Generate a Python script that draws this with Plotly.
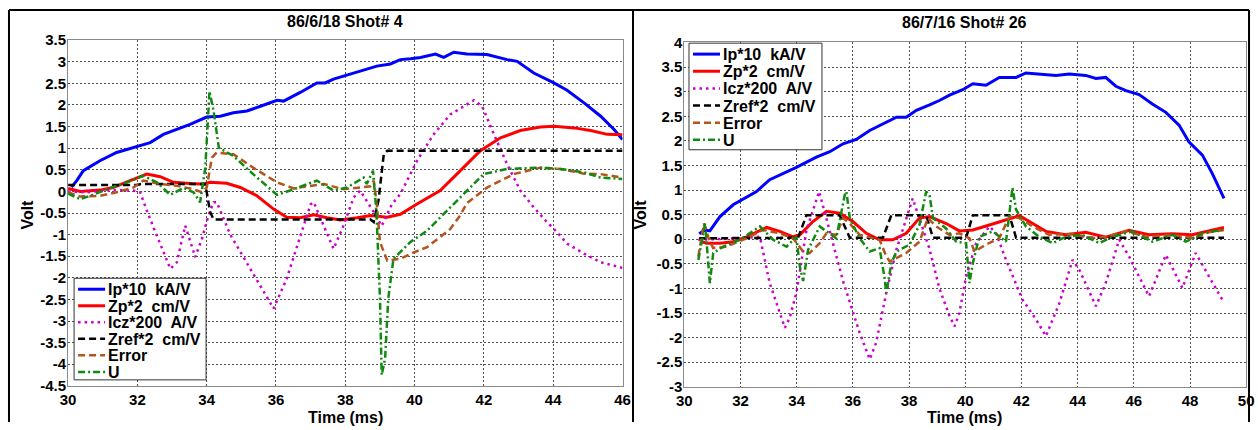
import plotly.graph_objects as go

# Figure size in CSS px.  The page keeps the browser's default 8px body
# margin and the whole page (figure + margins) ends up scaled into the
# 1258x430 view, so layout positions below are written in view pixels and
# converted back through that offset and scale.
W, H = 1258, 430
BODY = 8
SX = W / (W + 2 * BODY)
SY = H / (H + 2 * BODY)

# ---------------- shot 4 (86/6/18) ----------------
t_ip1 = [30.1, 30.25, 30.44, 30.92, 31.4, 32.0, 32.37, 32.75, 33.14, 33.52, 34.0, 34.39, 34.77, 35.16,
         35.55, 36.03, 36.22, 36.7, 37.18, 37.42, 37.66, 38.05, 38.43, 38.91, 39.3, 39.59, 39.88, 40.17,
         40.6, 40.84, 41.13, 41.51, 42.09, 42.67, 42.96, 43.44, 44.02, 44.4, 44.89, 45.37, 45.75, 46.0]
v_ip1 = [0.1, 0.25, 0.48, 0.71, 0.9, 1.04, 1.13, 1.32, 1.44, 1.55, 1.72, 1.74, 1.82, 1.86,
         1.97, 2.11, 2.09, 2.29, 2.51, 2.51, 2.6, 2.69, 2.79, 2.9, 2.95, 3.05, 3.07, 3.1,
         3.18, 3.1, 3.22, 3.18, 3.17, 3.05, 3.01, 2.74, 2.51, 2.34, 2.05, 1.74, 1.44, 1.2]

t_zp1 = [30.0, 30.35, 30.92, 31.3, 31.7, 32.17, 32.27, 32.66, 33.04, 33.62, 33.91, 34.1, 34.58, 34.97,
         35.45, 35.93, 36.31, 36.7, 37.09, 37.47, 37.86, 38.34, 38.73, 39.21, 39.59, 40.07, 40.74, 41.32,
         41.9, 42.48, 43.05, 43.63, 44.02, 44.6, 45.08, 45.56, 46.0]
v_zp1 = [0.07, 0.0, 0.03, 0.09, 0.22, 0.37, 0.4, 0.34, 0.21, 0.18, 0.17, 0.21, 0.19, 0.09,
         -0.1, -0.41, -0.6, -0.61, -0.54, -0.61, -0.66, -0.61, -0.56, -0.6, -0.53, -0.29, 0.02, 0.48,
         0.94, 1.24, 1.41, 1.49, 1.51, 1.47, 1.41, 1.32, 1.31]

t_icz1 = [30.0, 30.54, 31.2, 31.88, 32.08, 32.27, 32.56, 32.95, 33.14, 33.38, 33.67, 33.86, 34.05, 34.2,
          34.29, 34.68, 35.93, 36.31, 36.8, 37.0, 37.09, 37.66, 37.95, 38.24, 38.43, 38.8, 39.05, 39.35,
          39.59, 40.07, 40.55, 41.03, 41.71, 41.95, 42.29, 42.67, 43.05, 43.44, 43.82, 44.11, 44.4, 44.89,
          45.37, 46.0]
v_icz1 = [0.0, -0.02, 0.03, 0.02, -0.02, -0.44, -1.02, -1.79, -1.64, -0.79, -1.52, -1.1, -0.56, -0.25,
          -0.25, -1.0, -2.71, -2.02, -0.79, -0.3, -0.25, -1.33, -0.79, -0.14, 0.02, -0.45, -0.8, -0.29,
          -0.06, 0.71, 1.32, 1.78, 2.11, 1.97, 1.32, 0.63, 0.02, -0.37, -0.71, -0.94, -1.21, -1.44,
          -1.64, -1.77]

t_zref1 = [30.0, 32.0, 32.1, 33.96, 34.1, 34.2, 38.73, 38.82, 38.96, 39.11, 39.21, 46.0]
v_zref1 = [0.15, 0.15, 0.17, 0.17, -0.48, -0.65, -0.65, -0.71, -0.2, 0.86, 0.94, 0.94]

t_err1 = [30.0, 30.35, 30.92, 31.4, 31.88, 32.17, 32.66, 33.14, 33.62, 33.86, 34.0, 34.15, 34.29, 34.77,
          35.34, 36.03, 36.51, 37.09, 37.38, 37.95, 38.43, 38.73, 38.82, 38.91, 39.0, 39.21, 39.59, 39.98,
          40.36, 41.03, 41.32, 41.51, 42.09, 42.86, 43.63, 44.21, 44.89, 45.37, 46.0]
v_err1 = [-0.02, -0.12, -0.1, -0.02, 0.09, 0.25, 0.17, 0.13, 0.05, -0.02, 0.09, 0.78, 0.9, 0.86,
          0.55, 0.21, 0.07, 0.13, 0.17, 0.05, 0.09, 0.12, 0.25, -0.3, -1.17, -1.6, -1.56, -1.41,
          -1.29, -0.87, -0.55, -0.27, 0.09, 0.4, 0.55, 0.52, 0.41, 0.4, 0.32]

t_u1 = [30.0, 30.35, 30.64, 31.12, 31.7, 32.17, 32.56, 32.95, 33.33, 33.62, 33.81, 33.96, 34.08, 34.2,
        34.35, 34.77, 35.34, 36.03, 36.51, 37.18, 37.66, 38.05, 38.53, 38.62, 38.8, 38.9, 39.0, 39.05,
        39.15, 39.24, 39.39, 39.88, 40.36, 40.84, 41.51, 41.99, 42.67, 43.63, 44.21, 44.89, 45.37, 46.0]
v_u1 = [-0.05, -0.18, -0.1, 0.05, 0.21, 0.36, 0.21, -0.08, 0.08, -0.02, -0.25, 0.55, 2.32, 1.86,
        1.01, 0.82, 0.4, -0.08, 0.05, 0.25, 0.02, 0.09, 0.32, 0.17, 0.48, -0.5, -2.47, -4.25,
        -3.86, -2.48, -1.56, -1.17, -0.91, -0.52, 0.02, 0.4, 0.52, 0.55, 0.52, 0.44, 0.32, 0.29]

# ---------------- shot 26 (86/7/16) ----------------
t_ip2 = [30.53, 30.74, 30.91, 31.27, 31.74, 32.22, 32.57, 33.04, 33.52, 33.99, 34.7, 35.18, 35.65, 36.12,
         36.6, 37.07, 37.55, 37.9, 38.26, 38.73, 39.08, 39.44, 39.91, 40.27, 40.74, 41.21, 41.81, 42.16,
         42.64, 43.23, 43.7, 44.29, 44.65, 45.0, 45.36, 45.72, 46.19, 46.66, 47.14, 47.61, 47.96, 48.44,
         48.79, 49.21]
v_ip2 = [0.11, 0.19, 0.17, 0.46, 0.7, 0.86, 0.97, 1.21, 1.34, 1.46, 1.67, 1.78, 1.94, 2.03,
         2.21, 2.35, 2.48, 2.48, 2.62, 2.73, 2.82, 2.93, 3.04, 3.16, 3.13, 3.29, 3.29, 3.38,
         3.36, 3.33, 3.36, 3.33, 3.27, 3.29, 3.11, 3.02, 2.94, 2.75, 2.58, 2.32, 1.98, 1.71,
         1.34, 0.83]

t_zp2 = [30.62, 30.79, 31.27, 31.74, 32.22, 32.93, 33.4, 33.87, 34.11, 34.58, 35.06, 35.53, 36.0, 36.48,
         36.95, 37.42, 37.9, 38.37, 38.73, 39.32, 39.79, 40.27, 40.86, 41.45, 41.93, 42.4, 42.87, 43.58,
         44.29, 45.0, 45.83, 46.54, 47.37, 48.08, 48.79, 49.21]
v_zp2 = [-0.05, -0.08, -0.08, -0.05, 0.05, 0.24, 0.16, 0.05, 0.09, 0.36, 0.57, 0.53, 0.36, 0.12,
         -0.01, -0.01, 0.12, 0.43, 0.46, 0.32, 0.17, 0.19, 0.29, 0.39, 0.48, 0.32, 0.16, 0.09,
         0.14, 0.04, 0.18, 0.09, 0.11, 0.09, 0.19, 0.24]

t_icz2 = [30.5, 31.98, 32.69, 33.04, 33.58, 33.75, 33.99, 34.35, 34.8, 35.18, 35.65, 36.24, 36.6, 36.83,
          37.19, 37.55, 38.13, 38.73, 39.08, 39.44, 39.62, 39.79, 40.03, 40.39, 40.86, 41.1, 41.45, 42.04,
          42.52, 42.87, 43.35, 43.82, 44.06, 44.65, 45.0, 45.48, 45.83, 46.54, 47.14, 47.73, 48.2, 49.15]
v_icz2 = [-0.01, 0.02, 0.05, -0.89, -1.8, -1.6, -1.09, 0.19, 0.97, 0.15, -0.85, -1.9, -2.44, -2.1,
          -1.09, -0.21, 0.83, -0.2, -1.0, -1.56, -1.77, -1.5, -0.76, -0.08, 0.26, 0.12, -0.42, -1.23,
          -1.63, -1.97, -1.3, -0.42, -0.62, -1.36, -0.89, -0.01, -0.35, -1.16, -0.32, -0.99, -0.28, -1.23]

t_zref2 = [30.53, 34.05, 34.35, 35.53, 35.89, 37.07, 37.37, 38.61, 38.85, 40.03, 40.27, 41.57, 41.81, 49.21]
v_zref2 = [0.02, 0.03, 0.49, 0.49, 0.03, 0.03, 0.49, 0.49, 0.03, 0.03, 0.49, 0.49, 0.03, 0.03]

t_err2 = [30.5, 30.7, 30.91, 31.03, 31.5, 32.22, 32.81, 33.4, 33.87, 34.23, 34.46, 34.82, 35.06, 35.41,
          35.65, 35.89, 36.24, 36.95, 37.19, 37.31, 37.9, 38.37, 38.67, 38.97, 39.44, 39.79, 40.15, 40.33,
          40.74, 41.21, 41.57, 41.93, 42.4, 42.99, 43.82, 44.53, 45.0, 45.72, 46.43, 47.37, 48.08, 48.67,
          49.21]
v_err2 = [-0.35, 0.32, -0.05, -0.18, -0.15, 0.02, 0.19, 0.12, 0.02, -0.25, -0.28, -0.08, 0.12, 0.09,
          0.43, 0.32, 0.09, -0.01, -0.35, -0.45, -0.28, -0.05, 0.43, 0.26, 0.09, 0.12, 0.02, -0.25,
          -0.11, 0.02, 0.46, 0.43, 0.26, 0.09, 0.11, 0.02, 0.05, 0.16, 0.05, 0.09, 0.02, 0.14,
          0.19]

t_u2 = [30.5, 30.74, 30.91, 31.03, 31.39, 31.98, 32.69, 33.16, 33.64, 33.99, 34.11, 34.23, 34.41, 34.82,
        35.06, 35.41, 35.71, 35.77, 35.89, 36.24, 36.6, 36.95, 37.13, 37.19, 37.37, 37.55, 38.02, 38.37,
        38.61, 38.73, 38.85, 39.32, 39.68, 40.03, 40.15, 40.27, 40.5, 40.98, 41.45, 41.68, 41.81, 42.16,
        42.64, 43.11, 43.58, 44.17, 44.77, 45.24, 45.95, 46.66, 47.37, 47.85, 48.44, 49.15]
v_u2 = [-0.42, 0.32, -0.89, -0.28, -0.15, -0.01, 0.26, -0.01, -0.15, 0.05, -0.55, -0.85, -0.21, 0.26,
        0.16, 0.02, 0.9, 0.97, 0.43, 0.02, -0.25, -0.18, -0.79, -1.09, -0.49, -0.25, -0.11, 0.29,
        0.97, 0.9, 0.43, 0.22, -0.05, -0.08, -0.89, -0.49, 0.05, 0.16, -0.05, 1.05, 0.6, 0.26,
        0.05, -0.08, 0.05, 0.09, -0.08, 0.05, 0.16, -0.05, 0.09, -0.05, 0.12, 0.19]

# ---------------- labels / ticks ----------------
titles = ["86/6/18 Shot# 4", "86/7/16 Shot# 26"]
series_names = ["Ip*10\u00a0 kA/V", "Zp*2\u00a0 cm/V", "Icz*200\u00a0 A/V",
                "Zref*2\u00a0 cm/V", "Error", "U"]
x_ticks1 = [30, 32, 34, 36, 38, 40, 42, 44, 46]
x_ticks2 = [30, 32, 34, 36, 38, 40, 42, 44, 46, 48, 50]
y_ticks1 = [-4.5, -4, -3.5, -3, -2.5, -2, -1.5, -1, -0.5, 0, 0.5, 1, 1.5, 2, 2.5, 3, 3.5]
y_ticks2 = [-3, -2.5, -2, -1.5, -1, -0.5, 0, 0.5, 1, 1.5, 2, 2.5, 3, 3.5, 4]

# line styles per series: colour, width, dash
styles = [
    ("#0000ff", 3, "solid"),
    ("#ff0000", 3, "solid"),
    ("#cc00cc", 2.5, "2.5px,4px"),
    ("#000000", 2.5, "7px,4px"),
    ("#b5541c", 2.5, "7px,4px"),
    ("#108a10", 2.5, "7px,3px,2px,3px"),
]

FONT = "Liberation Sans, Arial, sans-serif"

fig = go.Figure()

panels = [
    ([(t_ip1, v_ip1), (t_zp1, v_zp1), (t_icz1, v_icz1), (t_zref1, v_zref1), (t_err1, v_err1), (t_u1, v_u1)], "x", "y"),
    ([(t_ip2, v_ip2), (t_zp2, v_zp2), (t_icz2, v_icz2), (t_zref2, v_zref2), (t_err2, v_err2), (t_u2, v_u2)], "x2", "y2"),
]
for series, xa, ya in panels:
    for (tt, vv), name, (col, lw, dash) in zip(series, series_names, styles):
        fig.add_trace(go.Scatter(x=tt, y=vv, mode="lines", name=name, showlegend=False,
                                 xaxis=xa, yaxis=ya,
                                 line=dict(color=col, width=lw, dash=dash)))


def px(x):
    """view x pixel -> paper fraction (clamped to the figure)"""
    return min(max((x / SX - BODY) / W, 0.0), 1.0)


def py(y):
    """view y pixel (from top) -> paper fraction (clamped to the figure)"""
    return min(max(1 - (y / SY - BODY) / H, 0.0), 1.0)


axis_common = dict(showline=True, mirror=True, linecolor="#8a8a8a", linewidth=1,
                   showgrid=True, gridcolor="#505050", griddash="2px,2px", gridwidth=1,
                   zeroline=False, ticks="", tickmode="array",
                   tickfont=dict(family=FONT, size=15, color="#000", weight="bold"))


def fmt(v):
    return "%g" % v


fig.update_layout(
    width=W, height=H, margin=dict(l=0, r=0, t=0, b=0),
    paper_bgcolor="white", plot_bgcolor="white", showlegend=False,
    xaxis=dict(domain=[px(68), px(622.5)], range=[30, 46], anchor="y", ticklabelstandoff=0,
               tickvals=x_ticks1, ticktext=[fmt(v) for v in x_ticks1], **axis_common),
    yaxis=dict(domain=[py(386), py(39)], range=[-4.5, 3.5], anchor="x", ticklabelstandoff=-2,
               tickvals=y_ticks1, ticktext=[fmt(v) for v in y_ticks1], **axis_common),
    xaxis2=dict(domain=[px(684.3), px(1246.3)], range=[30, 50], anchor="y2", ticklabelstandoff=0,
                tickvals=x_ticks2, ticktext=[fmt(v) for v in x_ticks2], **axis_common),
    yaxis2=dict(domain=[py(387), py(41.3)], range=[-3, 4], anchor="x2", ticklabelstandoff=-2,
                tickvals=y_ticks2, ticktext=[fmt(v) for v in y_ticks2], **axis_common),
)

shapes = []
annotations = []

# outer frames of the two panels
frame = dict(type="line", xref="paper", yref="paper", line=dict(color="#000", width=2))
top, left, mid, right = 1 - 1.0 / H, 1.0 / W, px(633), 1 - 1.0 / W
shapes.append(dict(frame, x0=left, x1=right, y0=top, y1=top))
for xv in (left, mid, right):
    shapes.append(dict(frame, x0=xv, x1=xv, y0=top, y1=0))

bold = dict(family=FONT, size=16, color="#000", weight="bold")
txt = dict(xref="paper", yref="paper", showarrow=False, font=bold)

# titles and axis titles
for title, cx, ty in zip(titles, [345, 965], [20, 21]):
    annotations.append(dict(txt, text=title, x=px(cx), y=py(ty), xanchor="center", yanchor="middle"))
    annotations.append(dict(txt, text="Time (ms)", x=px(cx), y=py(417.5), xanchor="center", yanchor="middle"))
for vx in [27, 641]:
    annotations.append(dict(txt, text="Volt", textangle=-90, x=px(vx), y=py(214),
                            xanchor="center", yanchor="middle"))

# legends: (box left, box top, box right, box bottom, row pitch), in view pixels
legend_boxes = [(74, 278, 206, 380, 16.6), (689, 42, 822, 149, 17.2)]
for bx0, by0, bx1, by1, pitch in legend_boxes:
    shapes.append(dict(type="rect", xref="paper", yref="paper", x0=px(bx0), x1=px(bx1),
                       y0=py(by1), y1=py(by0), fillcolor="white",
                       line=dict(color="#333", width=1), layer="above"))
    for i, (name, (col, lw, dash)) in enumerate(zip(series_names, styles)):
        yy = by0 + 11 + i * pitch
        shapes.append(dict(type="line", xref="paper", yref="paper", x0=px(bx0 + 4), x1=px(bx0 + 31),
                           y0=py(yy), y1=py(yy), layer="above",
                           line=dict(color=col, width=lw, dash=dash)))
        annotations.append(dict(txt, text=name, x=px(bx0 + 32), y=py(yy + 0.5),
                                xanchor="left", yanchor="middle"))

fig.update_layout(shapes=shapes, annotations=annotations)
fig.write_html("out.html")
